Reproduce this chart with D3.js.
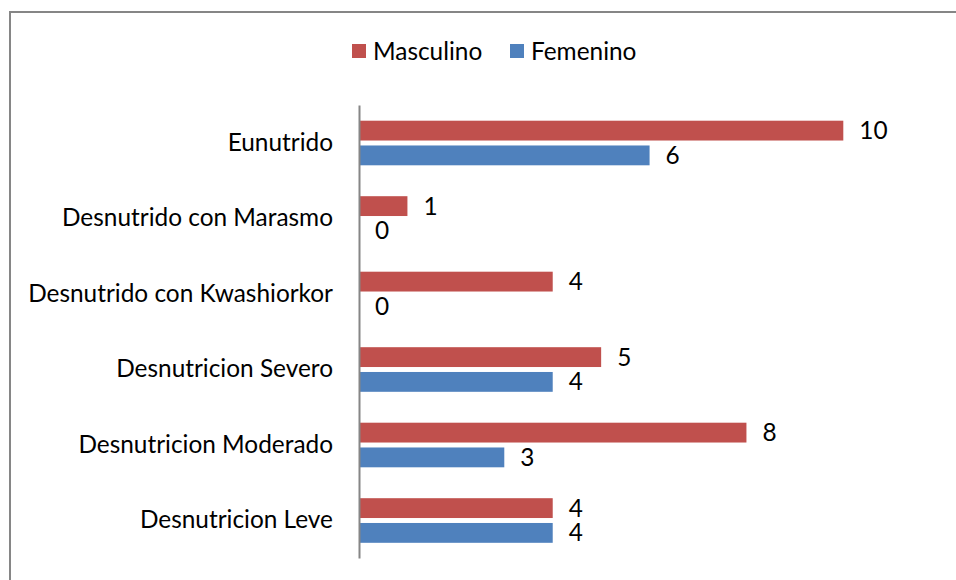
<!DOCTYPE html>
<html>
<head>
<meta charset="utf-8">
<script src="https://cdn.jsdelivr.net/npm/d3@7/dist/d3.min.js"></script>
<style>
  html, body { margin: 0; padding: 0; background: #fff; }
  svg { display: block; }
  text { font-family: Lato, "Open Sans", sans-serif; fill: #000; }
</style>
</head>
<body>
<svg id="chart" width="956" height="580"></svg>
<script>
const categories = ["Eunutrido", "Desnutrido con Marasmo", "Desnutrido con Kwashiorkor", "Desnutricion Severo", "Desnutricion Moderado", "Desnutricion Leve"];
const masculino = [10, 1, 4, 5, 8, 4];
const femenino = [6, 0, 0, 4, 3, 4];
const seriesNames = ["Masculino", "Femenino"];
const seriesColors = ["#C0504D", "#4F81BD"];

const svg = d3.select("#chart");
const fontSize = 24.4;

// outer chart border (extends past right/bottom edge)
svg.append("rect")
  .attr("x", 10).attr("y", 12)
  .attr("width", 1000).attr("height", 1000)
  .attr("fill", "none")
  .attr("stroke", "#868686")
  .attr("stroke-width", 2);

const x = d3.scaleLinear().domain([0, 10]).range([359, 843.3]);
const y = d3.scaleBand().domain(categories).range([105, 558]).padding(0);
const sub = d3.scaleBand().domain(seriesNames).range([15.7, 60.3]).paddingInner(0.2);

const data = categories.map((c, i) => ({ cat: c, values: [masculino[i], femenino[i]] }));

const groups = svg.append("g").selectAll("g")
  .data(data).join("g")
  .attr("transform", d => `translate(0,${y(d.cat)})`);

groups.selectAll("rect")
  .data(d => d.values.map((v, j) => ({ v, s: seriesNames[j], color: seriesColors[j] })))
  .join("rect")
  .attr("x", x(0))
  .attr("y", d => sub(d.s))
  .attr("width", d => x(d.v) - x(0))
  .attr("height", sub.bandwidth())
  .attr("fill", d => d.color);

groups.selectAll("text.val")
  .data(d => d.values.map((v, j) => ({ v, s: seriesNames[j] })))
  .join("text")
  .attr("class", "val")
  .attr("x", d => x(d.v) + 16)
  .attr("y", d => sub(d.s) + sub.bandwidth() / 2)
  .attr("dy", "0.35em")
  .attr("font-size", fontSize)
  .text(d => d.v);

// vertical axis
const axis = svg.append("g")
  .attr("transform", `translate(${x(0)},0)`)
  .call(d3.axisLeft(y).tickSize(0).tickSizeOuter(0).tickPadding(26));
axis.select(".domain").attr("stroke", "#868686").attr("stroke-width", 2);
axis.selectAll(".tick text")
  .attr("font-size", fontSize)
  .attr("font-family", "Lato, 'Open Sans', sans-serif")
  .attr("fill", "#000");

// legend
const legendX = [352, 510];
const legend = svg.append("g").selectAll("g")
  .data(seriesNames).join("g")
  .attr("transform", (d, i) => `translate(${legendX[i]},44)`);
legend.append("rect")
  .attr("width", 14).attr("height", 14)
  .attr("fill", (d, i) => seriesColors[i]);
legend.append("text")
  .attr("x", 21).attr("y", 7).attr("dy", "0.35em")
  .attr("font-size", fontSize)
  .text(d => d);
</script>
</body>
</html>
